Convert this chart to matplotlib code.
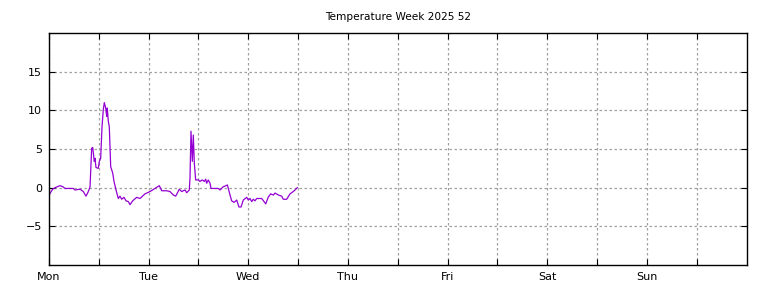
import matplotlib
matplotlib.use('Agg')
import matplotlib.pyplot as plt

# hours since Monday 00:00 and temperature (°C)
hours = [0.0, 0.89, 1.45, 2.65, 3.30, 3.85, 5.85, 6.26, 7.47, 8.26, 8.91, 9.47,
         9.88, 10.28, 10.53, 10.91, 11.08, 11.32, 11.87, 12.12, 12.45, 12.77,
         13.08, 13.32, 13.66, 13.90, 14.04, 14.28, 14.52, 14.86, 15.34, 15.66,
         16.14, 16.69, 17.10, 17.51, 18.06, 18.55, 19.10, 19.51, 20.16, 21.12,
         21.92, 23.12, 24.33, 25.53, 26.57, 27.15, 28.35, 29.14, 29.94, 30.52,
         31.38, 31.96, 32.76, 33.17, 33.79, 33.96, 34.20, 34.52, 34.76, 35.00,
         35.33, 35.96, 36.37, 36.92, 37.41, 37.74, 37.98, 38.37, 38.78, 39.02,
         40.78, 41.19, 41.98, 42.39, 42.95, 43.19, 43.60, 44.00, 44.56, 45.21,
         45.76, 46.25, 46.80, 47.62, 48.00, 48.41, 48.82, 49.21, 49.62, 50.03,
         51.23, 51.79, 52.20, 52.83, 53.41, 54.03, 54.44, 55.23, 56.05, 56.43,
         57.25, 58.05, 58.84, 59.25, 59.81]
temps = [-0.95, -0.2, 0.0, 0.26, 0.13, -0.1, -0.1, -0.3, -0.2, -0.5, -1.1, -0.5,
         0.1, 5.1, 5.2, 3.4, 3.8, 2.6, 2.5, 3.4, 3.8, 7.9,
         10.1, 11.0, 10.3, 9.2, 10.3, 8.6, 7.9, 2.7, 1.9, 0.8,
         -0.3, -1.4, -1.1, -1.5, -1.25, -1.7, -1.8, -2.2, -1.7, -1.25,
         -1.4, -0.8, -0.5, -0.1, 0.26, -0.4, -0.4, -0.5, -0.95, -1.1,
         -0.2, -0.5, -0.3, -0.65, -0.3, 1.2, 7.3, 3.4, 6.8, 3.2,
         1.0, 1.0, 0.8, 1.0, 0.8, 1.1, 0.57, 1.0, 0.57, -0.1,
         -0.1, -0.3, 0.13, 0.2, 0.35, -0.1, -0.95, -1.7, -1.9, -1.6,
         -2.5, -2.5, -1.6, -1.25, -1.6, -1.4, -1.8, -1.5, -1.7, -1.4,
         -1.4, -1.8, -2.1, -1.2, -0.8, -0.95, -0.7, -0.95, -1.1, -1.5,
         -1.5, -0.8, -0.5, -0.3, 0.0]

days = ['Mon', 'Tue', 'Wed', 'Thu', 'Fri', 'Sat', 'Sun']
yticks = [-5, 0, 5, 10, 15]

fig = plt.figure(figsize=(7.68, 2.88), dpi=100)
ax = fig.add_axes([49 / 768, 23 / 288, 697.5 / 768, 232 / 288])

ax.plot(hours, temps, color='#9400d3', lw=0.9)

ax.set_xlim(0, 168)
ax.set_ylim(-10, 20)
ax.set_xticks([24 * i for i in range(7)])
ax.set_xticklabels(days)
ax.set_xticks([12 + 24 * i for i in range(7)], minor=True)
ax.set_yticks(yticks)
ax.tick_params(which='both', direction='in', top=True, right=True,
               labelsize=8, length=4, width=0.8, pad=5)
ax.grid(True, which='both', color='#a0a0a0', linestyle=(0, (2, 2)), lw=0.9)
for s in ax.spines.values():
    s.set_linewidth(1)

ax.set_title('Temperature Week 2025 52', fontsize=7.6, pad=9)

fig.savefig('out.png', dpi=100)
